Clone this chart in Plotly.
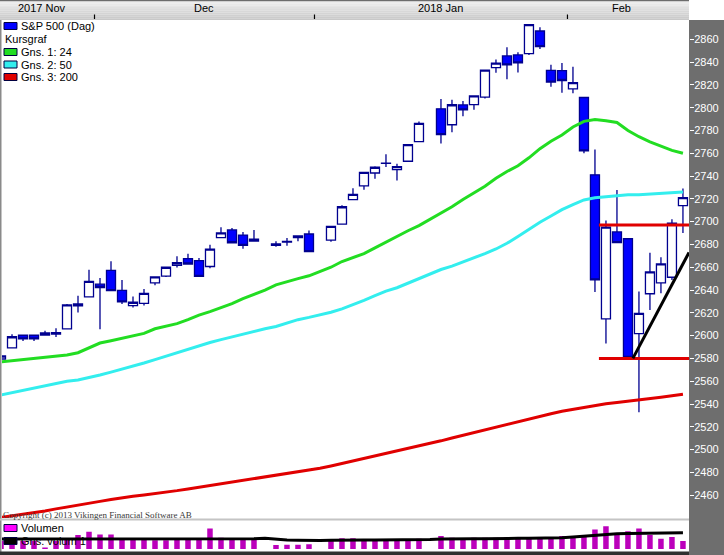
import plotly.graph_objects as go

# ---------------- data ----------------
SLOTS = ["2017-11-20", "2017-11-21", "2017-11-22", "2017-11-23", "2017-11-24", "2017-11-27",
         "2017-11-28", "2017-11-29", "2017-11-30",
         "2017-12-01", "2017-12-04", "2017-12-05", "2017-12-06", "2017-12-07", "2017-12-08",
         "2017-12-11", "2017-12-12", "2017-12-13", "2017-12-14", "2017-12-15", "2017-12-18",
         "2017-12-19", "2017-12-20", "2017-12-21", "2017-12-22", "2017-12-26", "2017-12-27",
         "2017-12-28", "2017-12-29",
         "2018-01-01", "2018-01-02", "2018-01-03", "2018-01-04", "2018-01-05", "2018-01-08",
         "2018-01-09", "2018-01-10", "2018-01-11", "2018-01-12", "2018-01-15", "2018-01-16",
         "2018-01-17", "2018-01-18", "2018-01-19", "2018-01-22", "2018-01-23", "2018-01-24",
         "2018-01-25", "2018-01-26", "2018-01-29", "2018-01-30", "2018-01-31",
         "2018-02-01", "2018-02-02", "2018-02-05", "2018-02-06", "2018-02-07", "2018-02-08",
         "2018-02-09", "2018-02-12", "2018-02-13", "2018-02-14", "2018-02-15"]

OPEN = [2579.49, 2589.17, 2600.31, 2600.31, 2600.42, 2602.66, 2605.94, 2627.82, 2633.93,
        2645.10, 2657.19, 2639.78, 2626.24, 2628.38, 2646.21, 2652.19, 2661.73, 2667.59, 2665.87,
        2660.63, 2685.92, 2692.71, 2688.18, 2683.02, None, 2679.09, 2682.10, 2686.10, 2689.15,
        None, 2683.73, 2697.85, 2719.31, 2731.33, 2742.67, 2751.15, 2745.55, 2752.97, 2770.18,
        None, 2798.96, 2784.99, 2802.40, 2802.60, 2809.16, 2835.05, 2845.42, 2846.24, 2847.48,
        2867.23, 2832.74, 2832.41,
        2816.45, 2808.92, 2741.06, 2614.78, 2690.95, 2685.01, 2601.78, 2636.75, 2646.27, 2651.21, 2714.0]
HIGH = [2584.64, 2601.19, 2600.94, 2600.94, 2604.21, 2606.41, 2627.69, 2634.89, 2657.74,
        2650.62, 2665.19, 2648.72, 2634.41, 2640.99, 2651.65, 2660.33, 2669.72, 2671.88, 2668.09,
        2679.63, 2694.97, 2694.44, 2691.01, 2692.64, None, 2682.74, 2685.64, 2687.66, 2692.12,
        None, 2695.89, 2714.37, 2729.29, 2743.45, 2748.51, 2759.14, 2750.80, 2767.56, 2787.85,
        None, 2807.54, 2807.04, 2805.83, 2810.33, 2833.03, 2842.24, 2852.97, 2848.56, 2872.87,
        2870.62, 2837.75, 2839.26,
        2835.96, 2808.92, 2763.39, 2701.04, 2727.67, 2685.27, 2638.67, 2672.61, 2668.84, 2702.10, 2729.0]
LOW = [2578.24, 2589.17, 2595.23, 2595.23, 2600.42, 2598.87, 2605.44, 2620.32, 2633.93,
       2605.52, 2639.03, 2627.73, 2624.75, 2626.53, 2644.10, 2651.47, 2659.78, 2662.85, 2652.01,
       2659.14, 2685.92, 2680.74, 2676.11, 2682.40, None, 2677.96, 2678.91, 2682.69, 2673.61,
       None, 2682.36, 2697.77, 2719.07, 2727.92, 2737.60, 2747.86, 2736.06, 2752.78, 2769.64,
       None, 2768.64, 2778.38, 2792.56, 2798.08, 2808.12, 2830.59, 2824.81, 2830.94, 2846.18,
       2851.48, 2818.27, 2813.04,
       2812.70, 2759.97, 2638.17, 2593.07, 2681.33, 2580.56, 2532.69, 2622.45, 2637.08, 2648.87, 2690.0]
CLOSE = [2582.14, 2599.03, 2597.08, 2597.08, 2602.42, 2601.42, 2627.04, 2626.07, 2647.58,
         2642.22, 2639.44, 2629.57, 2629.27, 2636.98, 2651.50, 2659.99, 2664.11, 2662.85, 2652.01,
         2675.81, 2690.16, 2681.47, 2679.25, 2684.57, None, 2680.50, 2682.62, 2687.54, 2673.61,
         None, 2695.81, 2713.06, 2723.99, 2743.15, 2747.71, 2751.29, 2748.23, 2767.56, 2786.24,
         None, 2776.42, 2802.56, 2798.03, 2810.30, 2832.97, 2839.13, 2837.54, 2839.25, 2872.87,
         2853.53, 2822.43, 2823.81,
         2821.98, 2762.13, 2648.94, 2695.14, 2681.66, 2581.00, 2619.55, 2656.00, 2662.94, 2698.63, 2721.0]

MA24 = [2577, 2578, 2579, 2580, 2580.5, 2581.5, 2583, 2585, 2589, 2593.5, 2595.5, 2597.5, 2599.5,
        2602, 2606, 2608.5, 2610.5, 2614, 2618, 2621, 2624.5, 2628, 2632.5, 2636, 2640, 2644.5,
        2647.5, 2650, 2652.5, 2656, 2660, 2665, 2668.5, 2672, 2677, 2682, 2687.5, 2692, 2696.5,
        2702, 2707.5, 2713, 2719.5, 2725, 2731, 2738, 2744, 2749, 2756, 2764, 2770.5, 2776, 2783,
        2788, 2789.5, 2788.5, 2787, 2780, 2774.5, 2770, 2766, 2762.5, 2760]
MA50 = [2548, 2550, 2552.5, 2554.5, 2556, 2558, 2560, 2561, 2563, 2565.5, 2568, 2570.5, 2573.5,
        2576, 2579, 2582, 2585, 2588, 2591.5, 2594, 2596.5, 2599, 2601, 2603.5, 2606, 2608, 2611,
        2614, 2616, 2618, 2620.5, 2623.5, 2627, 2631, 2635, 2639, 2642, 2646, 2650, 2654, 2658,
        2661, 2664.5, 2668, 2672, 2676, 2681, 2687, 2693.5, 2699.5, 2705, 2710.5, 2715, 2719,
        2721, 2722, 2723, 2723.5, 2723.5, 2724, 2724.5, 2725, 2726]
MA200 = [2440.5, 2441.8, 2443.2, 2444.5, 2446.2, 2448, 2449.8, 2451.3, 2453, 2454.6, 2456.2,
         2457.8, 2459, 2460.2, 2461.3, 2462.6, 2464, 2465.5, 2467, 2468.3, 2469.7, 2471, 2472.5,
         2474, 2475.6, 2477.2, 2478.8, 2480.4, 2482, 2483.6, 2485.6, 2487.8, 2490, 2492.2, 2494.3,
         2496.4, 2498.5, 2500.6, 2503, 2505.3, 2507.7, 2510.2, 2512.6, 2515, 2517.5, 2519.8,
         2522.3, 2524.8, 2527, 2529.3, 2531.5, 2533.6, 2535.4, 2537.2, 2538.7, 2540.2, 2541.4,
         2542.4, 2543.5, 2544.7, 2546, 2547.3, 2548.6]

VOLUME = [25, 28, 25, 25, 5, 25, 32, 43, 53, 45, 45, 32, 28, 28, 27, 27, 28, 32, 32, 63, 35, 33,
          28, 28, None, 12, 13, 13, 15, None, 28, 33, 33, 30, 28, 30, 30, 30, 32, None, 40, 35, 30,
          35, 35, 35, 37, 35, 35, 35, 37, 40, 40, 43, 60, 70, 47, 55, 63, 43, 32, 37, 25]
VOLUME_MA = [31, 31, 31, 31, 31, 30, 30, 30, 31, 31, 31, 31, 31, 31, 31, 31, 31, 31, 31, 32, 32,
             32, 32, 32, 33, 30, 28, 27, 26, 26, 27, 28, 28, 28, 28, 28, 28, 28, 28, 29, 31, 32,
             32, 32, 32, 33, 33, 33, 33, 33, 34, 35, 37, 40, 43, 46, 47, 48, 48, 49, 50, 50, 50]

Y_TICKS = list(range(2460, 2861, 20))
MONTH_LABELS = ["2017 Nov", "Dec", "2018 Jan", "Feb"]
MONTH_LABEL_POS = [3.7, 18.5, 40.0, 56.4]          # slot units
LEVELS = [2697, 2580]                               # drawn horizontal lines
LEVEL_START = 54.36
TREND = ([57.45, 62.55], [2580, 2673])              # drawn trend line

X_RANGE = [0.09, 62.55]
Y_RANGE = [2440.0, 2876.9]
VOL_RANGE = [0, 88]

# ---------------- layout geometry ----------------
W, H = 724, 555
PL, PR, PT, PB = 2, 689, 20, 549


def pxx(px):
    return (px - PL) / (PR - PL)


def pxy(py):
    return (PB - py) / (PB - PT)


FONT = "Liberation Sans, Arial, sans-serif"
xs = list(range(len(SLOTS)))
cidx = [i for i in xs if OPEN[i] is not None]

fig = go.Figure()
fig.add_trace(go.Candlestick(
    x=cidx, open=[OPEN[i] for i in cidx], high=[HIGH[i] for i in cidx],
    low=[LOW[i] for i in cidx], close=[CLOSE[i] for i in cidx],
    increasing=dict(line=dict(color="#00008f", width=1.3), fillcolor="#ffffff"),
    decreasing=dict(line=dict(color="#00008f", width=1.3), fillcolor="#0000ff"),
    whiskerwidth=0, showlegend=False, hoverinfo="skip", xaxis="x", yaxis="y"))
for vals, col in [(MA200, "#e00000"), (MA50, "#33eeee"), (MA24, "#22dd22")]:
    fig.add_trace(go.Scatter(x=xs, y=vals, mode="lines", line=dict(color=col, width=3),
                             showlegend=False, hoverinfo="skip", xaxis="x", yaxis="y"))

vidx = [i for i in xs if VOLUME[i] is not None]
fig.add_trace(go.Bar(x=vidx, y=[VOLUME[i] for i in vidx], width=0.5, marker=dict(color="#bb00bb", line=dict(width=0)),
                     showlegend=False, hoverinfo="skip", xaxis="x", yaxis="y2"))
fig.add_trace(go.Scatter(x=xs, y=VOLUME_MA, mode="lines", line=dict(color="#000000", width=3),
                         showlegend=False, hoverinfo="skip", xaxis="x", yaxis="y2"))

shapes = []
# header gradient
hdr = ["#6c6c6c", "#ececec", "#e8e8e8", "#e4e4e4", "#e0e0e0", "#dcdcdc", "#d8d8d8", "#d4d4d4",
       "#d0d0d0", "#cccccc", "#c8c8c8"]
rows = [(0, 1.5)] + [(1.5 + 1.85 * k, 1.5 + 1.85 * (k + 1)) for k in range(10)]
for (a, b), c in zip(rows, hdr):
    shapes.append(dict(type="rect", xref="paper", yref="paper", x0=pxx(0), x1=1, y0=pxy(b), y1=pxy(a),
                       fillcolor=c, line=dict(width=0), layer="below"))
# right axis gray panel
shapes.append(dict(type="rect", xref="paper", yref="paper", x0=1, x1=pxx(W), y0=pxy(H), y1=1,
                   fillcolor="#6e6e6e", line=dict(width=0), layer="below"))
# left border
shapes.append(dict(type="rect", xref="paper", yref="paper", x0=pxx(0), x1=pxx(1.5), y0=pxy(H), y1=1,
                   fillcolor="#8a8a8a", line=dict(width=0), layer="below"))
# separator between price and volume panels
shapes.append(dict(type="rect", xref="paper", yref="paper", x0=pxx(0), x1=1, y0=pxy(520.5), y1=pxy(518.5),
                   fillcolor="#c4c4c4", line=dict(width=0), layer="below"))
# bottom border
shapes.append(dict(type="rect", xref="paper", yref="paper", x0=pxx(0), x1=1, y0=pxy(H), y1=pxy(551.5),
                   fillcolor="#303030", line=dict(width=0), layer="above"))
# month boundary ticks in header
for i in range(1, len(SLOTS)):
    if SLOTS[i][5:7] != SLOTS[i - 1][5:7]:
        xb = i - 0.5
        shapes.append(dict(type="line", xref="x", yref="paper", x0=xb, x1=xb, y0=pxy(19), y1=pxy(14.5),
                           line=dict(color="#000000", width=1.2)))
# drawn levels and trend line
for lv in LEVELS:
    shapes.append(dict(type="line", xref="x", yref="y", x0=LEVEL_START, x1=X_RANGE[1], y0=lv, y1=lv,
                       line=dict(color="#e00000", width=3), layer="above"))
shapes.append(dict(type="line", xref="x", yref="y", x0=TREND[0][0], x1=TREND[0][1], y0=TREND[1][0],
                   y1=TREND[1][1], line=dict(color="#000000", width=3), layer="above"))

annotations = []
for lab, pos in zip(MONTH_LABELS, MONTH_LABEL_POS):
    annotations.append(dict(text=lab, x=pos, y=pxy(8), xref="x", yref="paper", showarrow=False,
                            xanchor="center", yanchor="middle", font=dict(family=FONT, size=11, color="#000000")))

legend = [("S&P 500 (Dag)", "#0000ff", 26), ("Kursgraf", None, 39), ("Gns. 1: 24", "#22dd22", 52),
          ("Gns. 2: 50", "#33eeee", 64.5), ("Gns. 3: 200", "#e00000", 77),
          ("Volumen", "#ff00ff", 528), ("Gns. volum 1", "#000000", 541)]
for txt, col, py in legend:
    if col is None:
        annotations.append(dict(text=txt, x=pxx(3), y=pxy(py), xref="paper", yref="paper", showarrow=False,
                                xanchor="left", yanchor="middle", font=dict(family=FONT, size=11, color="#000000")))
        continue
    shapes.append(dict(type="rect", xref="paper", yref="paper", x0=pxx(4), x1=pxx(17), y0=pxy(py + 3.5),
                       y1=pxy(py - 3.5), fillcolor=col, line=dict(color="#000040", width=1), layer="above"))
    annotations.append(dict(text=txt, x=pxx(19), y=pxy(py), xref="paper", yref="paper", showarrow=False,
                            xanchor="left", yanchor="middle", font=dict(family=FONT, size=11, color="#000000")))

annotations.append(dict(text="Copyright (c) 2013 Vikingen Financial Software AB", x=pxx(1), y=pxy(515),
                        xref="paper", yref="paper", showarrow=False, xanchor="left", yanchor="middle",
                        font=dict(family="Liberation Serif, Times New Roman, serif", size=9, color="#3a3a3a")))

fig.update_layout(
    width=W, height=H, margin=dict(l=PL, r=W - PR, t=PT, b=H - PB, pad=0),
    paper_bgcolor="#ffffff", plot_bgcolor="#ffffff",
    showlegend=False, boxgap=0.18, boxgroupgap=0,
    xaxis=dict(range=X_RANGE, visible=False, anchor="y", rangeslider=dict(visible=False)),
    yaxis=dict(domain=[pxy(518), 1], range=Y_RANGE, side="right", anchor="x", tickmode="array",
               tickvals=Y_TICKS, ticks="outside", ticklen=4, tickwidth=1, tickcolor="#ffffff",
               ticklabelstandoff=-2,
               tickfont=dict(family=FONT, size=11, color="#ffffff"), showgrid=False, zeroline=False,
               showline=False),
    yaxis2=dict(domain=[0, pxy(520.5)], range=VOL_RANGE, visible=False, anchor="x"),
    shapes=shapes, annotations=annotations,
)

fig.write_html("out.html", config={"displayModeBar": False, "staticPlot": True},
               post_script="document.body.style.margin='0';document.body.style.padding='0';"
                           "document.body.style.overflow='hidden';")
